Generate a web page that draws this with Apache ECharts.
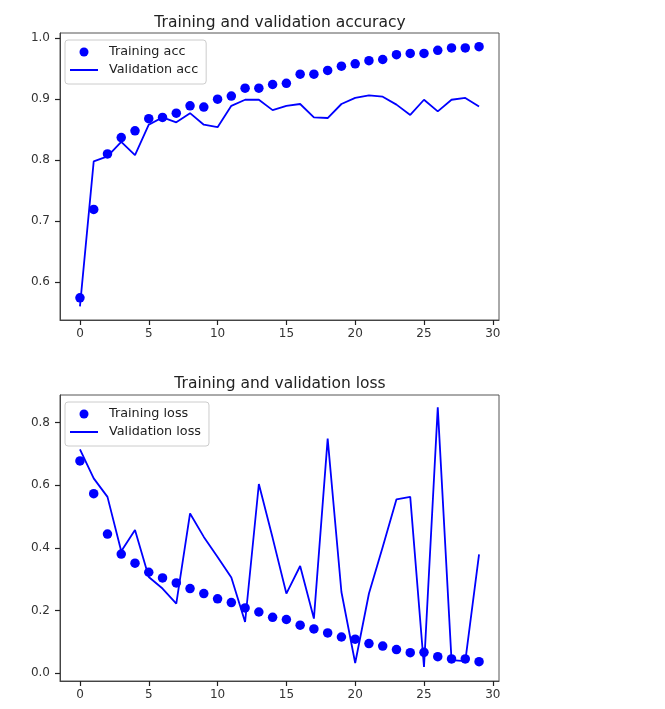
<!DOCTYPE html>
<html>
<head>
<meta charset="utf-8">
<script src="https://cdn.jsdelivr.net/npm/echarts@6/dist/echarts.min.js"></script>
<style>html,body{margin:0;padding:0;background:#fff;}#chart{width:665px;height:709px;}</style>
</head>
<body>
<div id="chart"></div>
<script>
// ---- data ----
const epochs = [0,1,2,3,4,5,6,7,8,9,10,11,12,13,14,15,16,17,18,19,20,21,22,23,24,25,26,27,28,29];
const trainingAcc = [0.574,0.719,0.810,0.837,0.848,0.868,0.870,0.877,0.889,0.887,0.900,0.905,0.918,0.918,0.924,0.926,0.941,0.941,0.947,0.954,0.958,0.963,0.965,0.973,0.975,0.975,0.980,0.984,0.984,0.986];
const validationAcc = [0.560,0.798,0.806,0.830,0.808,0.858,0.870,0.862,0.877,0.858,0.854,0.889,0.899,0.899,0.882,0.889,0.892,0.870,0.869,0.892,0.902,0.906,0.904,0.891,0.874,0.899,0.880,0.899,0.902,0.888];
const trainingLoss = [0.678,0.573,0.444,0.380,0.351,0.322,0.304,0.288,0.270,0.254,0.237,0.225,0.208,0.195,0.178,0.171,0.153,0.141,0.128,0.115,0.108,0.094,0.086,0.075,0.065,0.066,0.052,0.045,0.045,0.036];
const validationLoss = [0.715,0.622,0.563,0.389,0.457,0.307,0.270,0.222,0.510,0.435,0.371,0.305,0.163,0.604,0.432,0.254,0.342,0.174,0.749,0.259,0.032,0.254,0.403,0.555,0.563,0.019,0.849,0.041,0.038,0.379];
const xTicks = [0,5,10,15,20,25,30];
const accTicks = [0.6,0.7,0.8,0.9,1.0];
const lossTicks = [0.0,0.2,0.4,0.6,0.8];
const titles = ['Training and validation accuracy','Training and validation loss'];

const pairs = (ys) => epochs.map((x, i) => [x, ys[i]]);
const FONT = 'DejaVu Sans';
const BLUE = '#0000ff';
const LINE_ICON = 'path://M0,0L28,0L28,2L0,2Z';

function xAxis(gi) {
  return {
    type: 'value', gridIndex: gi, min: -1.45, max: 30.45, position: 'bottom',
    axisLine: {show: true, onZero: false, lineStyle: {color: '#444', width: 1}},
    splitLine: {show: false},
    axisTick: {show: true, customValues: xTicks, length: 5, inside: false, lineStyle: {color: '#222', width: 1.2}},
    axisLabel: {show: true, customValues: xTicks, margin: 8, fontFamily: FONT, fontSize: 12, color: '#333',
      formatter: v => String(Math.round(v))}
  };
}
function yAxis(gi, min, max, ticks) {
  return {
    type: 'value', gridIndex: gi, min: min, max: max, position: 'left',
    axisLine: {show: true, onZero: false, lineStyle: {color: '#444', width: 1}},
    splitLine: {show: false},
    axisTick: {show: true, customValues: ticks, length: 5, inside: false, lineStyle: {color: '#222', width: 1.2}},
    axisLabel: {show: true, customValues: ticks, margin: 10, fontFamily: FONT, fontSize: 12, color: '#333',
      formatter: v => v.toFixed(1)}
  };
}
function legend(top, names) {
  return {
    orient: 'vertical', left: 65, top: top, selectedMode: false,
    data: [{name: names[0], icon: 'circle'}, {name: names[1], icon: LINE_ICON}],
    itemWidth: 28, itemHeight: 9, itemGap: 4,
    padding: [5, 8, 7, 5],
    borderColor: '#cccccc', borderWidth: 1, borderRadius: 3,
    backgroundColor: 'rgba(255,255,255,0.8)',
    textStyle: {fontFamily: FONT, fontSize: 12.8, color: '#222', lineHeight: 14, padding: [0, 0, 0, 6]}
  };
}

const chart = echarts.init(document.getElementById('chart'), null, {renderer: 'canvas'});
chart.setOption({
  animation: false,
  backgroundColor: '#ffffff',
  title: [
    {text: titles[0], left: 275, top: 10, textAlign: 'center',
     textStyle: {fontFamily: FONT, fontSize: 15.5, fontWeight: 'normal', color: '#222'}},
    {text: titles[1], left: 275, top: 371, textAlign: 'center',
     textStyle: {fontFamily: FONT, fontSize: 15.5, fontWeight: 'normal', color: '#222'}}
  ],
  grid: [
    {left: 60, top: 33, width: 439, height: 287, show: true, borderColor: '#555', borderWidth: 1, backgroundColor: 'transparent'},
    {left: 60, top: 395, width: 439, height: 286, show: true, borderColor: '#555', borderWidth: 1, backgroundColor: 'transparent'}
  ],
  xAxis: [xAxis(0), xAxis(1)],
  yAxis: [yAxis(0, 0.5376, 1.0085, accTicks), yAxis(1, -0.0256, 0.8886, lossTicks)],
  legend: [legend(40, ['Training acc', 'Validation acc']), legend(402, ['Training loss', 'Validation loss'])],
  series: [
    {name: 'Training acc', type: 'scatter', xAxisIndex: 0, yAxisIndex: 0, data: pairs(trainingAcc),
     symbol: 'circle', symbolSize: 9.5, itemStyle: {color: BLUE, opacity: 1}},
    {name: 'Validation acc', type: 'line', xAxisIndex: 0, yAxisIndex: 0, data: pairs(validationAcc),
     symbol: 'none', showSymbol: false, lineStyle: {color: BLUE, width: 1.8}, itemStyle: {color: BLUE}},
    {name: 'Training loss', type: 'scatter', xAxisIndex: 1, yAxisIndex: 1, data: pairs(trainingLoss),
     symbol: 'circle', symbolSize: 9.5, itemStyle: {color: BLUE, opacity: 1}},
    {name: 'Validation loss', type: 'line', xAxisIndex: 1, yAxisIndex: 1, data: pairs(validationLoss),
     symbol: 'none', showSymbol: false, lineStyle: {color: BLUE, width: 1.8}, itemStyle: {color: BLUE}}
  ]
});
</script>
</body>
</html>
